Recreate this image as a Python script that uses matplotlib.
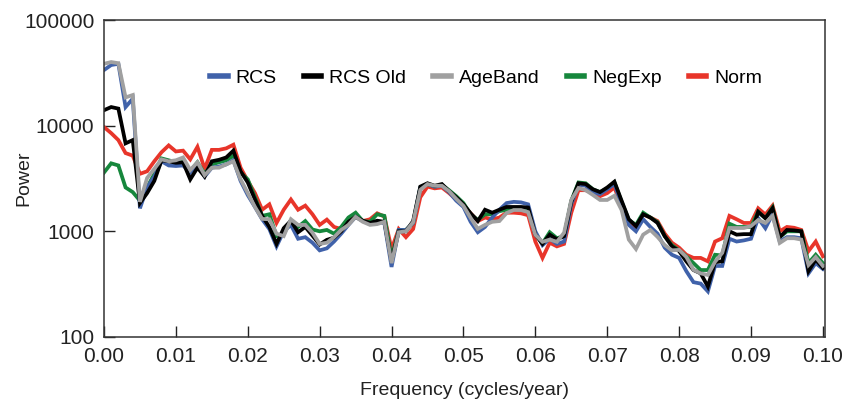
import numpy as np
import matplotlib
matplotlib.use("Agg")
import matplotlib.pyplot as plt
from matplotlib.lines import Line2D

plt.rcParams['font.family'] = ['Liberation Sans', 'DejaVu Sans']

# periodogram frequencies, cycles/year
freq = np.arange(101) * 0.001

rcs = [33600, 37500, 38500, 15000, 18000, 1650, 2600, 3300, 4600, 4200,
       4150, 4200, 3600, 4300, 3300, 4000, 4100, 4300, 4700, 3000,
       2200, 1700, 1300, 1050, 720, 1000, 1150, 850, 880, 780,
       660, 690, 800, 950, 1150, 1370, 1250, 1180, 1220, 1200,
       460, 1030, 1030, 1200, 2600, 2800, 2650, 2700, 2350, 1950,
       1700, 1230, 980, 1100, 1350, 1600, 1850, 1900, 1880, 1800,
       1000, 740, 850, 760, 800, 1800, 2750, 2700, 2350, 2250,
       2500, 2800, 1800, 1150, 1000, 1300, 1100, 950, 700, 600,
       560, 420, 330, 320, 270, 470, 470, 850, 800, 820,
       850, 1330, 1070, 1450, 800, 880, 880, 860, 400, 500, 440]

rcs_old = [14000, 15000, 14500, 6800, 7300, 1850, 2300, 3000, 4700, 4600,
           4450, 4500, 3100, 4000, 3300, 4600, 4750, 5000, 5800, 3700,
           2900, 2000, 1400, 1100, 760, 1070, 1260, 980, 1100, 910,
           750, 830, 870, 1000, 1230, 1370, 1260, 1200, 1260, 1230,
           520, 1000, 1000, 1250, 2650, 2850, 2700, 2800, 2400, 2100,
           1800, 1480, 1250, 1600, 1500, 1600, 1700, 1700, 1700, 1680,
           930, 760, 930, 840, 900, 1900, 2850, 2800, 2500, 2350,
           2600, 2950, 1950, 1300, 1120, 1450, 1350, 1200, 900, 720,
           650, 520, 430, 400, 300, 510, 520, 1000, 930, 940,
           940, 1530, 1330, 1650, 880, 1030, 1020, 1000, 420, 540, 450]

ageband = [38500, 40000, 39000, 18500, 19500, 1900, 3200, 3900, 4800, 4600,
           4700, 5000, 3800, 4500, 3400, 4000, 4000, 4300, 4600, 3100,
           2300, 1700, 1310, 1300, 950, 900, 1300, 1150, 1150, 970,
           760, 780, 880, 1030, 1150, 1370, 1230, 1150, 1170, 1230,
           500, 980, 1000, 1220, 2470, 2800, 2700, 2700, 2400, 2030,
           1740, 1340, 1055, 1150, 1230, 1250, 1490, 1590, 1590, 1520,
           925, 795, 835, 795, 970, 1980, 2570, 2450, 2210, 1980,
           1980, 2170, 1590, 835, 680, 930, 1030, 885, 740, 660,
           667, 572, 432, 400, 386, 515, 625, 1075, 1075, 1075,
           1120, 1280, 1200, 1400, 776, 860, 860, 835, 480, 570, 470]

negexp = [3600, 4400, 4200, 2600, 2350, 1950, 2600, 3500, 4900, 4700,
          4500, 4500, 3700, 4500, 3500, 4300, 4500, 4700, 5200, 3600,
          3100, 2100, 1400, 1450, 900, 950, 1250, 1100, 1250, 1040,
          1000, 1030, 950, 1100, 1350, 1500, 1250, 1230, 1450, 1400,
          560, 1030, 1030, 1200, 2600, 2800, 2650, 2750, 2450, 2150,
          1850, 1450, 1280, 1450, 1450, 1550, 1600, 1650, 1600, 1600,
          950, 770, 980, 860, 900, 1950, 2900, 2850, 2500, 2350,
          2550, 2900, 1900, 1280, 1150, 1500, 1350, 1220, 900, 740,
          660, 580, 500, 430, 430, 600, 590, 1180, 1100, 1100,
          1100, 1530, 1330, 1680, 880, 1000, 1000, 1000, 500, 600, 500]

norm = [9700, 8500, 7300, 5500, 5200, 3500, 3700, 4600, 5600, 6500,
        5700, 5800, 4800, 6300, 3900, 5900, 5900, 6100, 6600, 4000,
        3000, 2300, 1600, 1800, 1200, 1600, 2000, 1600, 1750, 1450,
        1150, 1290, 1100, 1050, 1200, 1420, 1250, 1300, 1480, 1380,
        680, 1050, 880, 1050, 2100, 2650, 2550, 2600, 2300, 2000,
        1750, 1480, 1250, 1350, 1300, 1350, 1500, 1500, 1480, 1420,
        800, 560, 780, 720, 760, 1500, 2450, 2450, 2300, 2150,
        2300, 2600, 1750, 1200, 1050, 1450, 1350, 1250, 950, 780,
        700, 600, 560, 560, 520, 800, 860, 1400, 1300, 1200,
        1200, 1650, 1440, 1750, 1000, 1100, 1080, 1030, 650, 800, 580]

series = {
    "RCS": (rcs, "#4062aa"),
    "RCS Old": (rcs_old, "#000000"),
    "AgeBand": (ageband, "#a0a0a0"),
    "NegExp": (negexp, "#16873c"),
    "Norm": (norm, "#e8352a"),
}
draw_order = ["Norm", "NegExp", "RCS", "RCS Old", "AgeBand"]

fig = plt.figure(figsize=(8.51, 4.05), dpi=100)
ax = fig.add_axes([0.1222, 0.168, 0.8473, 0.7826])

for name in draw_order:
    vals, col = series[name]
    ax.plot(freq, vals, color=col, lw=2.7, solid_joinstyle="miter")

ax.set_yscale("log")
ax.set_xlim(0, 0.1003)
ax.set_ylim(100, 100000)
ax.set_xticks(np.arange(11) * 0.01)
ax.set_xticklabels(["%.2f" % v for v in np.arange(11) * 0.01])
ax.set_yticks([100, 1000, 10000, 100000])
ax.set_yticklabels(["100", "1000", "10000", "100000"])
ax.yaxis.set_minor_locator(matplotlib.ticker.NullLocator())
ax.tick_params(direction="in", length=8, width=1, labelsize=15,
               colors="#222222", pad=7)
for s in ax.spines.values():
    s.set_linewidth(1.1)
    s.set_color("#333333")

ax.set_xlabel("Frequency (cycles/year)", fontsize=14, color="#222222", labelpad=12)
ax.set_ylabel("Power", fontsize=14, color="#222222")
ax.yaxis.set_label_coords(-0.10, 0.5)

handles = [Line2D([], [], color=series[n][1], lw=4) for n in series]
ax.legend(handles, list(series.keys()), loc="upper center", ncol=5,
          bbox_to_anchor=(0.53, 0.90), frameon=False, fontsize=14,
          handlelength=0.9, handletextpad=0.4, columnspacing=1.4)

fig.savefig("out.png", dpi=100)
